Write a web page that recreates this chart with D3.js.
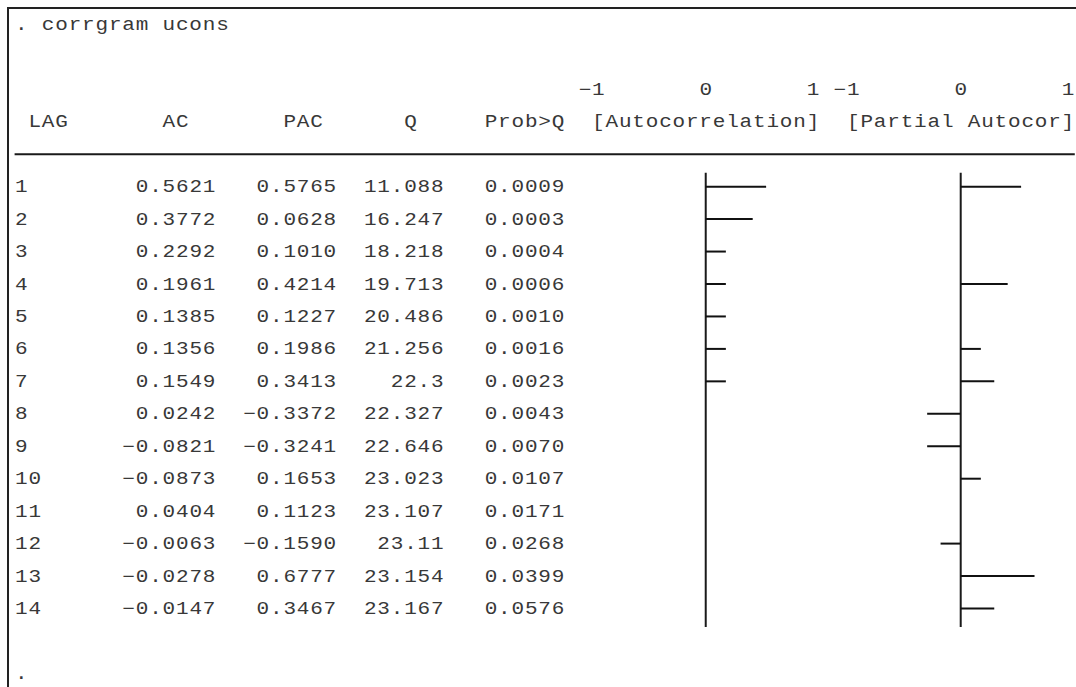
<!DOCTYPE html>
<html>
<head>
<meta charset="utf-8">
<script src="https://cdn.jsdelivr.net/npm/d3@7"></script>
<style>
  html, body { margin: 0; padding: 0; background: #fff; overflow: hidden; }
  svg text { font-family: "Courier New", "Liberation Mono", "DejaVu Sans Mono", monospace; }
</style>
</head>
<body>
<svg id="log" width="1076" height="687"></svg>
<script>
// ---- corrgram output: command, table values and scale labels ----
const command = ". corrgram ucons";
const prompt = ".";
const lags = [1, 2, 3, 4, 5, 6, 7, 8, 9, 10, 11, 12, 13, 14];
const ac   = [0.5621, 0.3772, 0.2292, 0.1961, 0.1385, 0.1356, 0.1549, 0.0242, -0.0821, -0.0873, 0.0404, -0.0063, -0.0278, -0.0147];
const pac  = [0.5765, 0.0628, 0.1010, 0.4214, 0.1227, 0.1986, 0.3413, -0.3372, -0.3241, 0.1653, 0.1123, -0.1590, 0.6777, 0.3467];
const qStat = [11.088, 16.247, 18.218, 19.713, 20.486, 21.256, 22.3, 22.327, 22.646, 23.023, 23.107, 23.11, 23.154, 23.167];
const probQ = [0.0009, 0.0003, 0.0004, 0.0006, 0.0010, 0.0016, 0.0023, 0.0043, 0.0070, 0.0107, 0.0171, 0.0268, 0.0399, 0.0576];
const scaleTicks = [-1, 0, 1];
const headerLabels = ["LAG", "AC", "PAC", "Q", "Prob>Q", "[Autocorrelation]", "[Partial Autocor]"];

// ---- character grid of the results window ----
const W = 1076, H = 687;
const cw = 13.42;            // character pitch
const x0 = 14.6;             // left edge of column 0
const lh = 32.45;            // line height
const base0 = 30;            // baseline of line 0
const fontSize = 17.5;
const sx = 1.2;              // wide typewriter-style glyphs
const adv = fontSize * 0.6 * sx;   // advance on screen
const lsUser = (cw - adv) / sx;    // letter spacing in the scaled text space
const cellLeft = c => x0 + c * cw;
const cellCenter = c => x0 + (c + 0.5) * cw;
const baseline = k => base0 + k * lh;
const midline = k => baseline(k) - 5.6;
const TOTAL_COLS = 79;

const svg = d3.select("#log");
const ink = "#383838";

function put(str, col, line, align = "start") {
  const startCol = align === "end" ? col - str.length : col;
  const left = cellLeft(startCol) + (cw - adv) / 2;
  svg.append("text")
    .attr("transform", `scale(${sx},1)`)
    .attr("x", left / sx)
    .attr("y", baseline(line))
    .attr("font-size", fontSize)
    .style("letter-spacing", lsUser + "px")
    .attr("fill", ink)
    .text(str);
}

// window frame
svg.append("line").attr("x1", 8).attr("y1", 8).attr("x2", W).attr("y2", 8)
  .attr("stroke", "#222").attr("stroke-width", 2);
svg.append("line").attr("x1", 8).attr("y1", 7).attr("x2", 8).attr("y2", H)
  .attr("stroke", "#222").attr("stroke-width", 2);

// command line
put(command, 0, 0);

// scales for the two text plots: 8 characters per unit, -1..1
const acX  = d3.scaleLinear().domain([-1, 1]).range([cellCenter(43), cellCenter(59)]);
const pacX = d3.scaleLinear().domain([-1, 1]).range([cellCenter(62), cellCenter(78)]);
const charsPerUnit = (59 - 43) / 2;
const colOf = (scale, v) => Math.round((scale(v) - x0) / cw - 0.5);

// scale labels: last character sits on the tick column
[acX, pacX].forEach(scale => {
  scaleTicks.forEach(t => {
    const s = d3.format("d")(t);
    put(s, colOf(scale, t) + 1, 2, "end");
  });
});

// column headers
const headerCols = [1, 11, 20, 29, 35, 43, 62];
headerLabels.forEach((h, i) => put(h, headerCols[i], 3));

// rule under the headers
svg.append("line")
  .attr("x1", cellLeft(0)).attr("x2", cellLeft(TOTAL_COLS))
  .attr("y1", midline(4)).attr("y2", midline(4))
  .attr("stroke", "#1a1a1a").attr("stroke-width", 2);

// table rows
const f4 = d3.format(".4f");
const fq = d3.format(".5~g");
lags.forEach((lag, i) => {
  const line = 5 + i;
  put(String(lag), 0, line);
  put(f4(ac[i]), 15, line, "end");
  put(f4(pac[i]), 24, line, "end");
  put(fq(qStat[i]), 32, line, "end");
  put(f4(probQ[i]), 41, line, "end");
});

// text-mode bars: whole characters only, truncated toward zero
const quant = v => Math.trunc(v * charsPerUnit) / charsPerUnit;
function drawPlot(scale, values) {
  const zero = scale(0);
  svg.append("line")
    .attr("x1", zero).attr("x2", zero)
    .attr("y1", baseline(5) - 19.6).attr("y2", baseline(5 + values.length - 1) + 12.85)
    .attr("stroke", "#1a1a1a").attr("stroke-width", 2);
  svg.append("g").selectAll("line")
    .data(values.map((v, i) => ({ v: quant(v), i })).filter(d => d.v !== 0))
    .join("line")
    .attr("x1", zero)
    .attr("x2", d => scale(d.v) + Math.sign(d.v) * cw / 2)
    .attr("y1", d => midline(5 + d.i))
    .attr("y2", d => midline(5 + d.i))
    .attr("stroke", "#111").attr("stroke-width", 2);
}
drawPlot(acX, ac);
drawPlot(pacX, pac);

// closing prompt
put(prompt, 0, 20);
</script>
</body>
</html>
